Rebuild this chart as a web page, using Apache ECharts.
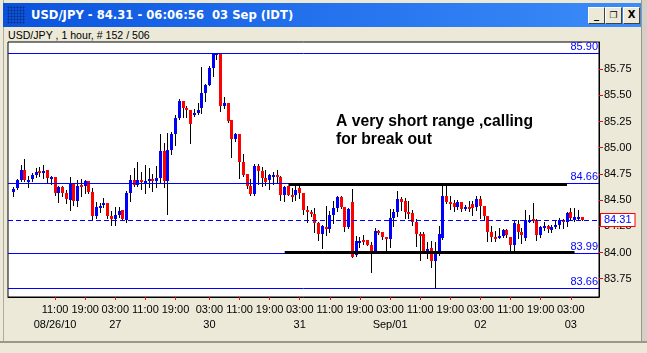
<!DOCTYPE html>
<html><head><meta charset="utf-8">
<script src="https://cdn.jsdelivr.net/npm/echarts@6/dist/echarts.min.js"></script>
<style>
html,body{margin:0;padding:0;width:647px;height:353px;overflow:hidden;background:#ECE9D8;}
#frameL{position:absolute;left:0;top:0;width:3px;height:353px;background:#ECE9D8;border-right:1px solid #B0AC9C;}
#frameR{position:absolute;left:641px;top:0;width:6px;height:353px;background:#D4D0C8;border-left:1px solid #9C9888;}
#frameB{position:absolute;left:0;top:341px;width:647px;height:12px;background:#ECE9D8;border-top:2px solid #9C9888;}
#titlebar{position:absolute;left:3px;top:3px;width:638px;height:24px;background:linear-gradient(to right,#0A52DE 0%,#1F6CEB 40%,#3C8CF8 100%);}
#icon{position:absolute;left:4px;top:3px;width:18px;height:18px;background-image:radial-gradient(circle,#0B2F7A 45%,transparent 50%);background-size:3px 3px;opacity:0.9;}
#ttext{position:absolute;left:28px;top:0;height:24px;line-height:24px;color:#fff;font-family:"DejaVu Sans",sans-serif;font-weight:bold;font-size:11.6px;white-space:pre;}
.btn{position:absolute;top:4px;width:15px;height:15px;background:#ECE9D8;border-top:1px solid #fff;border-left:1px solid #fff;border-right:1px solid #404040;border-bottom:1px solid #404040;font-family:"DejaVu Sans",sans-serif;font-weight:bold;font-size:10px;color:#000;text-align:center;line-height:14px;}
#subt{position:absolute;left:8px;top:28px;height:14px;line-height:14px;font-family:"Liberation Sans",Arial,sans-serif;font-size:10.6px;color:#000;white-space:pre;}
#chart{position:absolute;left:0;top:0;width:647px;height:353px;}
</style></head><body>
<div id="frameL"></div><div id="frameR"></div><div id="frameB"></div>
<div id="titlebar"><div id="icon"></div><div id="ttext">USD/JPY - 84.31 - 06:06:56  03 Sep (IDT)</div>
<div class="btn" style="left:585px;">_</div>
<div class="btn" style="left:602px;font-size:9px;">&#x2750;</div>
<div class="btn" style="left:620px;">X</div>
</div>
<div id="subt">USD/JPY , 1 hour, # 152 / 506</div>
<div id="chart"></div>
<script>
// ---- data ----
const days = [
  {day:'26', first:0, last:23},
  {day:'27', first:0, last:23},
  {day:'29', first:23, last:23},
  {day:'30', first:0, last:23},
  {day:'31', first:0, last:23},
  {day:'01', first:0, last:23},
  {day:'02', first:0, last:23},
  {day:'03', first:0, last:6}
];
const dateLabels = {'26 11:00':'08/26/10','27 03:00':'27','30 03:00':'30','31 03:00':'31','01 03:00':'Sep/01','02 03:00':'02','03 03:00':'03'};
const tickHours = ['03:00','11:00','19:00'];
const yTicks = [83.75, 84.00, 84.25, 84.50, 84.75, 85.00, 85.25, 85.50, 85.75];

const opens = [84.575,84.614,84.688,84.784,84.692,84.704,84.736,84.778,84.762,84.784,84.710,84.717,84.566,84.626,84.569,84.505,84.665,84.489,84.642,84.633,84.678,84.575,84.345,84.428,
84.454,84.476,84.348,84.322,84.361,84.409,84.309,84.566,84.688,84.643,84.688,84.675,84.678,84.697,84.678,84.713,84.970,84.681,84.976,85.132,85.284,85.444,85.380,85.364,
85.313,
85.332,85.380,85.524,85.601,85.761,85.890,85.900,85.402,85.428,85.264,85.082,85.130,84.867,84.745,84.633,84.562,84.822,84.777,84.707,84.688,84.726,84.736,84.720,84.546,
84.630,84.553,84.546,84.611,84.569,84.402,84.389,84.370,84.277,84.181,84.242,84.226,84.357,84.428,84.534,84.434,84.239,84.486,83.979,84.107,84.120,84.120,84.075,84.011,
84.207,84.191,84.149,84.133,84.329,84.389,84.514,84.495,84.389,84.373,84.293,84.178,84.178,84.014,84.043,83.920,83.992,84.139,84.543,84.486,84.473,84.434,84.486,84.415,
84.437,84.460,84.434,84.511,84.447,84.345,84.200,84.143,84.139,84.162,84.216,84.152,84.072,84.274,84.191,84.136,84.306,84.320,84.313,84.165,84.232,84.255,84.216,84.242,
84.264,84.313,84.290,84.383,84.306,84.339,84.336];
const closes = [84.610,84.688,84.784,84.688,84.696,84.736,84.768,84.762,84.778,84.710,84.717,84.566,84.626,84.569,84.508,84.665,84.489,84.639,84.636,84.678,84.575,84.345,84.431,84.447,
84.476,84.345,84.316,84.361,84.399,84.316,84.566,84.688,84.643,84.688,84.668,84.681,84.697,84.678,84.713,84.970,84.681,84.976,85.132,85.284,85.444,85.380,85.364,85.226,
85.332,
85.364,85.524,85.601,85.761,85.899,85.900,85.402,85.428,85.258,85.082,85.130,84.867,84.736,84.633,84.562,84.822,84.777,84.707,84.675,84.736,84.736,84.720,84.546,84.623,
84.553,84.546,84.601,84.569,84.402,84.389,84.370,84.277,84.181,84.255,84.226,84.357,84.428,84.534,84.434,84.239,84.415,83.956,84.107,84.114,84.107,84.075,84.011,84.207,
84.191,84.143,84.133,84.329,84.389,84.514,84.486,84.389,84.373,84.293,84.181,84.172,84.014,84.034,83.920,83.992,84.178,84.543,84.486,84.473,84.434,84.486,84.415,84.437,
84.428,84.428,84.511,84.447,84.345,84.200,84.143,84.139,84.162,84.216,84.168,84.072,84.280,84.191,84.168,84.313,84.313,84.306,84.165,84.239,84.255,84.223,84.242,84.264,
84.313,84.290,84.377,84.329,84.339,84.340,84.310];
const lows = [84.537,84.610,84.681,84.681,84.626,84.681,84.723,84.729,84.713,84.665,84.649,84.553,84.479,84.537,84.473,84.409,84.457,84.441,84.543,84.569,84.569,84.313,84.329,84.383,
84.438,84.329,84.264,84.264,84.335,84.306,84.290,84.489,84.636,84.630,84.604,84.566,84.623,84.591,84.623,84.675,84.623,84.367,84.938,85.027,85.274,85.290,85.290,85.043,
85.306,
85.322,85.329,85.444,85.595,85.684,85.851,85.354,85.380,85.242,84.912,85.066,84.712,84.726,84.617,84.553,84.553,84.649,84.636,84.643,84.610,84.655,84.668,84.505,84.495,
84.546,84.489,84.505,84.521,84.367,84.287,84.345,84.200,84.120,84.046,84.168,84.200,84.280,84.393,84.425,84.207,84.232,83.953,83.966,84.056,84.082,84.069,83.814,84.008,
84.175,84.126,84.008,84.056,84.249,84.345,84.409,84.329,84.329,84.264,84.066,83.926,84.011,83.943,83.862,83.660,83.979,84.126,84.473,84.415,84.393,84.415,84.393,84.409,
84.393,84.354,84.409,84.329,84.320,84.111,84.111,84.111,84.136,84.152,84.152,84.017,84.024,84.136,84.088,84.120,84.290,84.290,84.120,84.152,84.216,84.200,84.200,84.232,
84.232,84.232,84.249,84.313,84.300,84.313,84.306];
const highs = [84.626,84.697,84.832,84.889,84.729,84.755,84.810,84.820,84.832,84.784,84.729,84.717,84.633,84.633,84.600,84.723,84.665,84.690,84.697,84.688,84.678,84.617,84.486,84.473,
84.521,84.476,84.399,84.438,84.431,84.409,84.585,84.736,84.803,84.861,84.768,84.832,84.803,84.748,84.822,85.128,85.043,85.139,85.146,85.309,85.466,85.444,85.402,85.364,
85.370,
85.425,85.771,85.611,85.777,85.900,85.900,85.900,85.482,85.428,85.264,85.136,85.130,84.938,84.745,84.697,84.841,84.841,84.816,84.784,84.745,84.771,84.784,84.732,84.636,
84.636,84.617,84.643,84.649,84.569,84.447,84.409,84.425,84.287,84.264,84.441,84.393,84.489,84.543,84.543,84.434,84.425,84.606,84.162,84.152,84.168,84.120,84.100,84.232,
84.216,84.191,84.152,84.415,84.415,84.591,84.530,84.521,84.489,84.409,84.320,84.197,84.200,84.104,84.111,84.104,84.249,84.660,84.660,84.537,84.505,84.505,84.486,84.457,
84.489,84.495,84.537,84.537,84.447,84.345,84.249,84.207,84.232,84.223,84.223,84.152,84.303,84.313,84.232,84.409,84.360,84.473,84.320,84.249,84.290,84.264,84.264,84.313,
84.329,84.320,84.383,84.425,84.425,84.402,84.340];

const levels = [85.90, 84.66, 83.99, 83.66];
const lastPrice = 84.31;
const rangeLines = [
  {from:'31 00:00', to:'03 02:00', value:84.65},
  {from:'30 23:00', to:'03 04:00', value:84.00}
];
const note = 'A very short range ,calling\nfor break out';

// ---- build ----
const pad2 = n => (n < 10 ? '0' : '') + n;
const bars = [];
days.forEach(d => { for (let h = d.first; h <= d.last; h++) bars.push(d.day + ' ' + pad2(h) + ':00'); });
const categories = [''].concat(bars, ['', '', '', '']);
const candleData = bars.map((b, i) => [i + 1, opens[i], closes[i], lows[i], highs[i]]);
const catIndex = name => categories.indexOf(name);

const isTick = (idx, val) => !!val && tickHours.indexOf(val.slice(3)) >= 0;

function renderCandle(params, api) {
  const idx = api.value(0);
  const o = api.value(1), c = api.value(2), l = api.value(3), h = api.value(4);
  const pO = api.coord([idx, o]), pC = api.coord([idx, c]);
  const pL = api.coord([idx, l]), pH = api.coord([idx, h]);
  const cx = Math.round(pO[0] - 0.5);
  const top = Math.round(Math.min(pO[1], pC[1]));
  const bot = Math.round(Math.max(pO[1], pC[1]));
  const hy = Math.round(pH[1]), ly = Math.round(pL[1]);
  return {type:'group', children:[
    {type:'rect', shape:{x:cx, y:hy, width:1, height:Math.max(1, ly - hy + 1)}, style:{fill:'#000'}},
    {type:'rect', shape:{x:cx - 1, y:top, width:3, height:Math.max(2, bot - top)}, style:{fill: c >= o ? '#0000ff' : '#ff0000'}}
  ]};
}

const chart = echarts.init(document.getElementById('chart'), null, {renderer:'canvas'});
const FONT = '"Liberation Sans", Arial, sans-serif';
chart.setOption({
  animation: false,
  backgroundColor: 'transparent',
  grid: {left: 8, right: 48, top: 42, bottom: 56, show: true, backgroundColor: '#ffffff', borderColor: '#000000', borderWidth: 1},
  xAxis: {
    type: 'category', data: categories, boundaryGap: true,
    axisLine: {show: true, lineStyle: {color: '#000000', width: 1}},
    axisTick: {show: true, interval: isTick, alignWithLabel: true, length: 3, lineStyle: {color: '#ff0000'}},
    axisLabel: {
      show: true, interval: isTick, color: '#000000', fontFamily: FONT, fontSize: 11, lineHeight: 15.5, margin: 5,
      formatter: v => dateLabels[v] ? v.slice(3) + '\n' + dateLabels[v] : v.slice(3)
    },
    splitLine: {show: false}
  },
  yAxis: {
    type: 'value', position: 'right', min: 83.575, max: 86.009, scale: true,
    axisLine: {show: true, lineStyle: {color: '#000000', width: 1}},
    axisTick: {show: true, length: 4, customValues: yTicks, lineStyle: {color: '#ff0000'}},
    axisLabel: {show: true, customValues: yTicks, color: '#000000', fontFamily: FONT, fontSize: 11, margin: 5, formatter: v => v.toFixed(2)},
    splitLine: {show: false}
  },
  graphic: [{
    type: 'text', left: 336, top: 112, z: 10,
    style: {text: note, fill: '#000000', font: 'bold 15.7px "Liberation Sans", Arial, sans-serif', lineHeight: 18.5}
  }],
  series: [{
    type: 'custom', renderItem: renderCandle, data: candleData,
    encode: {x: 0, y: [1, 2, 3, 4]}, clip: true, z: 3,
    markLine: {
      silent: true, symbol: ['none', 'none'], animation: false, z: 4,
      lineStyle: {color: '#0000ff', width: 1, type: 'solid'},
      data: levels.map(v => ({
        yAxis: v, lineStyle: {color: '#0000ff', width: 1, type: 'solid'},
        label: {show: true, position: 'insideEndTop', formatter: v.toFixed(2), color: '#0000ff', fontFamily: FONT, fontSize: 11, distance: 1}
      })).concat([{
        yAxis: lastPrice, lineStyle: {color: '#0000ff', width: 1, type: [5, 3]},
        label: {show: true, position: 'end', formatter: lastPrice.toFixed(2), color: '#0000ff', fontFamily: FONT, fontSize: 11,
          backgroundColor: '#ffffff', borderColor: '#ff0000', borderWidth: 1, padding: [1, 3, 0, 3], distance: 2}
      }]).concat(rangeLines.map(r => [
        {coord: [catIndex(r.from), r.value], lineStyle: {color: '#000000', width: 3, type: 'solid'}, label: {show: false}},
        {coord: [catIndex(r.to), r.value]}
      ]))
    }
  }]
});
</script>
</body></html>
